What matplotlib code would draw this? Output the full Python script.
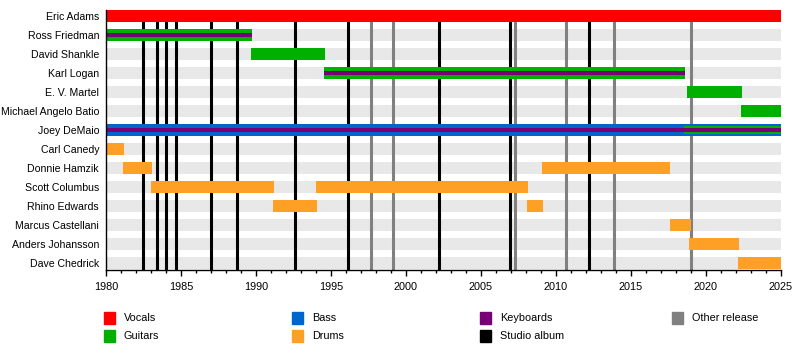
import matplotlib.pyplot as plt
from matplotlib.patches import Rectangle

plt.rcParams['font.family'] = ['Liberation Sans', 'DejaVu Sans']

members = ["Eric Adams", "Ross Friedman", "David Shankle", "Karl Logan",
           "E. V. Martel", "Michael Angelo Batio", "Joey DeMaio", "Carl Canedy",
           "Donnie Hamzik", "Scott Columbus", "Rhino Edwards", "Marcus Castellani",
           "Anders Johansson", "Dave Chedrick"]

# (member, start, end, roles) - roles from outside in
stints = [
    ("Eric Adams", 1980.0, 2025.0, ["Vocals"]),
    ("Ross Friedman", 1980.0, 1989.73, ["Guitars", "Keyboards"]),
    ("David Shankle", 1989.67, 1994.6, ["Guitars"]),
    ("Karl Logan", 1994.53, 2018.6, ["Guitars", "Keyboards"]),
    ("E. V. Martel", 2018.73, 2022.4, ["Guitars"]),
    ("Michael Angelo Batio", 2022.33, 2025.0, ["Guitars"]),
    ("Joey DeMaio", 1980.0, 2018.53, ["Bass", "Keyboards"]),
    ("Joey DeMaio", 2018.53, 2025.0, ["Bass", "Guitars", "Keyboards"]),
    ("Carl Canedy", 1980.0, 1981.2, ["Drums"]),
    ("Donnie Hamzik", 1981.13, 1983.07, ["Drums"]),
    ("Donnie Hamzik", 2009.07, 2017.6, ["Drums"]),
    ("Scott Columbus", 1983.0, 1991.2, ["Drums"]),
    ("Scott Columbus", 1994.0, 2008.13, ["Drums"]),
    ("Rhino Edwards", 1991.13, 1994.07, ["Drums"]),
    ("Rhino Edwards", 2008.07, 2009.13, ["Drums"]),
    ("Marcus Castellani", 2017.6, 2019.0, ["Drums"]),
    ("Anders Johansson", 2018.87, 2022.2, ["Drums"]),
    ("Dave Chedrick", 2022.13, 2025.0, ["Drums"]),
]

studio_albums = [1982.49, 1983.42, 1984.02, 1984.69, 1987.02, 1988.75,
                 1992.62, 1996.15, 2002.22, 2006.95, 2012.22]
other_releases = [1997.69, 1999.15, 2007.29, 2010.69, 2013.89, 2019.0]

role_colors = {
    "Vocals": "#ff0000",
    "Bass": "#0066cc",
    "Keyboards": "#770077",
    "Other release": "#808080",
    "Guitars": "#00b000",
    "Drums": "#ffa026",
    "Studio album": "#000000",
}
legend_cols = [["Vocals", "Guitars"], ["Bass", "Drums"],
               ["Keyboards", "Studio album"], ["Other release"]]

fig = plt.figure(figsize=(8, 3.6), dpi=100)
ax = fig.add_axes([106 / 800, 0.25, 675 / 800, 260 / 360])

row_h = 12 / 19
for i, name in enumerate(members):
    ax.barh(i, 45, left=1980, height=row_h, color="#e8e8e8", zorder=1)

for x in studio_albums:
    ax.axvline(x, color="black", lw=2.2, zorder=2)
for x in other_releases:
    ax.axvline(x, color="#808080", lw=2.2, zorder=2)

for name, start, end, roles in stints:
    y = members.index(name)
    n = len(roles)
    # nested stripes: outer role full height, inner roles shrink
    if n == 1:
        ax.barh(y, end - start, left=start, height=row_h,
                color=role_colors[roles[0]], zorder=3)
    elif n == 2:
        ax.barh(y, end - start, left=start, height=row_h,
                color=role_colors[roles[0]], zorder=3)
        ax.barh(y, end - start, left=start, height=row_h / 3,
                color=role_colors[roles[1]], zorder=4)
    else:
        ax.barh(y, end - start, left=start, height=row_h,
                color=role_colors[roles[0]], zorder=3)
        ax.barh(y, end - start, left=start, height=row_h * 8 / 12,
                color=role_colors[roles[1]], zorder=4)
        ax.barh(y, end - start, left=start, height=row_h / 3,
                color=role_colors[roles[2]], zorder=5)

ax.set_xlim(1980, 2025)
ax.set_ylim(13 + 7 / 19, -6 / 19)
ax.set_yticks(range(len(members)))
ax.set_yticklabels(members, fontsize=7.6)
ax.tick_params(axis="y", length=0, pad=5)
ax.set_xticks(range(1980, 2026, 5))
ax.set_xticks(range(1980, 2026), minor=True)
ax.tick_params(axis="x", which="major", length=4.5, width=1, labelsize=7.8, pad=4)
ax.tick_params(axis="x", which="minor", length=2.3, width=1)
for s in ["top", "right"]:
    ax.spines[s].set_visible(False)
for s in ["left", "bottom"]:
    ax.spines[s].set_linewidth(1)
    ax.spines[s].set_zorder(6)

col_x = [104, 292, 480, 672]
row_y = [318, 336]
for cx, col in zip(col_x, legend_cols):
    for ry, label in zip(row_y, col):
        fig.add_artist(Rectangle((cx / 800, 1 - (ry + 6) / 360), 11 / 800, 12 / 360,
                                 transform=fig.transFigure,
                                 color=role_colors[label]))
        fig.text((cx + 20) / 800, 1 - ry / 360, label, fontsize=7.8, va="center")

fig.savefig("out.png", dpi=100)
